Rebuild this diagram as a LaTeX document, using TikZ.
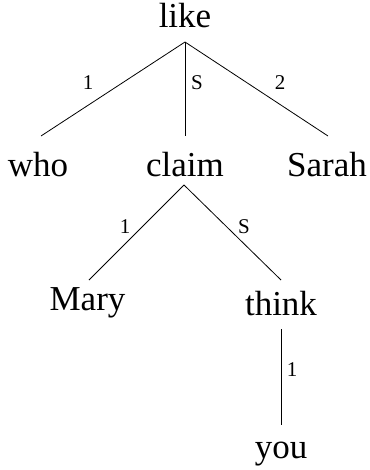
\documentclass[tikz,border=0pt]{standalone}
\usepackage{fontspec}
\setmainfont{Liberation Serif}
\usetikzlibrary{calc}
\begin{document}
\begin{tikzpicture}[x=1pt,y=-1pt,
  word/.style={anchor=base,inner sep=0pt,font=\fontsize{35}{42}\selectfont},
  lab/.style={inner sep=0pt,font=\fontsize{21}{24}\selectfont},
  edge/.style={line width=0.8pt}]
\useasboundingbox (0,0) rectangle (369,470);
\node[word] (like)  at (185,28)  {like};
\node[word] (who)   at (38,176)  {who};
\node[word] (claim) at (185,176) {claim};
\node[word] (sarah) at (327,176) {Sarah};
\node[word] (mary)  at (87.5,310) {Mary};
\node[word] (think) at (281,315) {think};
\node[word] (you)   at (281,458) {you};
\draw[edge] ($(like.base)+(0,14)$) -- ($(who.base)+(3,-40)$);
\draw[edge] ($(like.base)+(0,14)$) -- ($(claim.base)+(0,-40)$);
\draw[edge] ($(like.base)+(0,14)$) -- ($(sarah.base)+(1,-40)$);
\draw[edge] ($(claim.base)+(-1,9)$) -- ($(mary.base)+(1.5,-30)$);
\draw[edge] ($(claim.base)+(-1,9)$) -- ($(think.base)+(0,-35)$);
\draw[edge] ($(think.base)+(0,14)$) -- ($(you.base)+(0,-33)$);
\node[lab] (l1) at (88,83)  {1};
\node[lab] (l2) at (197,83) {S};
\node[lab] (l3) at (280,83) {2};
\node[lab] (l4) at (125,227) {1};
\node[lab] (l5) at (244,227) {S};
\node[lab] (l6) at (292,370) {1};
\end{tikzpicture}
\end{document}
